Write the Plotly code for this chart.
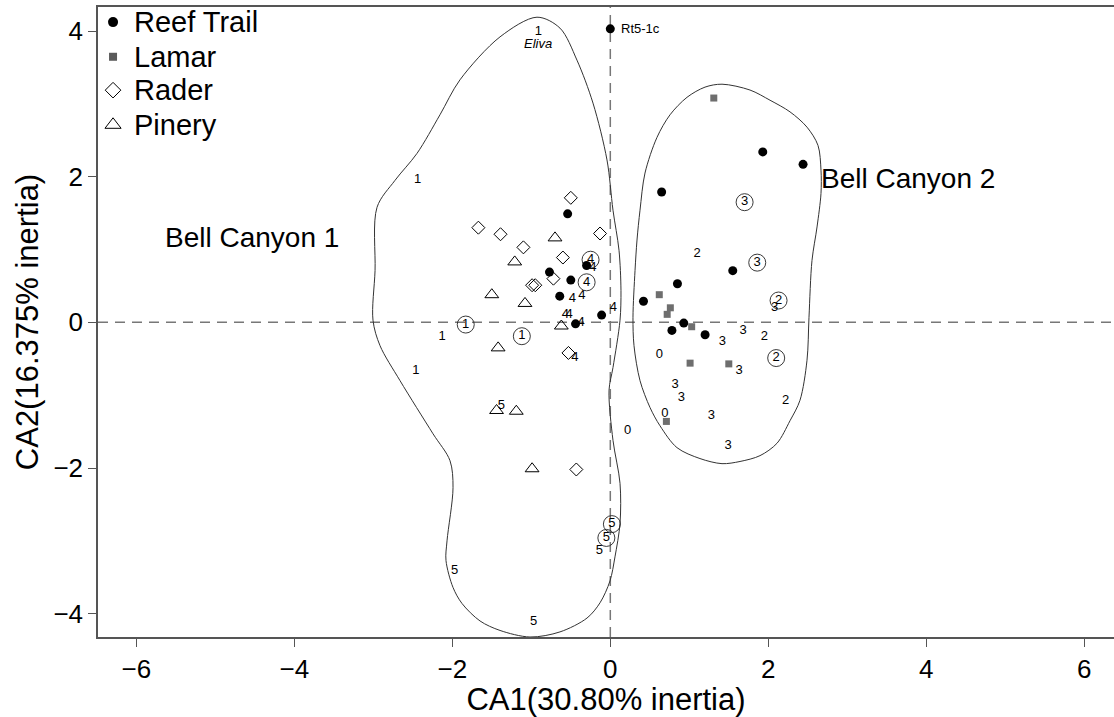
import plotly.graph_objects as go

# --- Sample scores on the first two CA axes ---
reef_x = [-0.54, -0.77, -0.50, -0.30, -0.64, -0.11, -0.44, 0.00, 1.93, 2.44, 0.65, 1.55, 0.85, 0.42, 0.93, 0.78, 1.20]
reef_y = [1.49, 0.69, 0.58, 0.78, 0.36, 0.10, -0.02, 4.03, 2.34, 2.17, 1.79, 0.71, 0.53, 0.29, -0.01, -0.11, -0.17]

lamar_x = [1.31, 0.62, 0.76, 0.72, 1.03, 1.01, 1.50, 0.71]
lamar_y = [3.08, 0.38, 0.20, 0.11, -0.06, -0.56, -0.57, -1.36]

rader_x = [-0.50, -1.67, -1.39, -0.13, -1.10, -0.60, -0.72, -0.99, -0.95, -0.53, -0.43]
rader_y = [1.71, 1.30, 1.21, 1.22, 1.03, 0.89, 0.60, 0.51, 0.51, -0.42, -2.02]

pinery_x = [-0.70, -1.21, -1.50, -1.08, -0.62, -1.42, -1.44, -1.19, -0.99]
pinery_y = [1.16, 0.83, 0.38, 0.26, -0.05, -0.35, -1.21, -1.22, -2.01]

# --- Species-group scores (numbered labels) ---
num_text = ["1", "1", "1", "1", "4", "4", "4", "4", "4", "4", "4", "4", "5", "0", "5", "5", "5",
            "2", "3", "3", "2", "3", "0", "3", "3", "3", "2", "0", "3", "3"]
num_x = [-0.91, -2.44, -2.13, -2.46, -0.22, -0.48, -0.36, 0.04, -0.57, -0.52, -0.37, -0.45, -1.38, 0.22, -0.14, -1.97, -0.97,
         1.10, 2.08, 1.68, 1.95, 1.42, 0.62, 1.63, 0.82, 0.90, 2.22, 0.69, 1.28, 1.49]
num_y = [3.99, 1.96, -0.20, -0.67, 0.75, 0.33, 0.36, 0.20, 0.11, 0.11, -0.01, -0.48, -1.14, -1.49, -3.14, -3.41, -4.11,
         0.94, 0.20, -0.12, -0.20, -0.27, -0.44, -0.66, -0.85, -1.03, -1.08, -1.25, -1.28, -1.70]

circ_text = ["1", "1", "4", "4", "5", "5", "3", "3", "2", "2"]
circ_x = [-1.83, -1.12, -0.25, -0.30, 0.02, -0.05, 1.70, 1.86, 2.13, 2.10]
circ_y = [-0.03, -0.19, 0.86, 0.55, -2.77, -2.96, 1.65, 0.82, 0.30, -0.49]

# --- Group outlines ---
bc1_x = [-0.928, -0.637, -0.422, -0.219, -0.042, 0.034, 0.110, 0.135, 0.123, 0.034, -0.016, 0.034, 0.123, 0.123,
         0.059, -0.004, -0.130, -0.295, -0.637, -1.016, -1.396, -1.649, -1.877, -1.991, -2.080, -2.067, -1.991,
         -2.029, -2.244, -2.662, -2.915, -3.004, -2.978, -2.953, -2.725, -2.447, -2.156, -1.903, -1.396, -0.928]
bc1_y = [4.19, 4.04, 3.60, 3.01, 2.23, 1.54, 0.99, 0.44, 0.03, -0.62, -0.93, -1.62, -2.21, -2.76,
         -3.22, -3.55, -3.85, -4.06, -4.25, -4.32, -4.23, -4.10, -3.86, -3.64, -3.27, -3.00, -2.27,
         -1.90, -1.53, -0.80, -0.32, 0.03, 0.71, 1.58, 1.95, 2.32, 2.85, 3.33, 3.92, 4.19]

bc2_x = [1.414, 1.768, 2.022, 2.275, 2.490, 2.629, 2.667, 2.667, 2.617, 2.553, 2.515, 2.490, 2.401, 2.275, 2.110,
         1.895, 1.642, 1.414, 1.135, 0.844, 0.629, 0.503, 0.376, 0.300, 0.287, 0.313, 0.338, 0.376, 0.439,
         0.591, 0.756, 0.971, 1.199, 1.414]
bc2_y = [3.27, 3.19, 3.05, 2.89, 2.68, 2.43, 2.09, 1.77, 1.31, 0.85, 0.07, -0.52, -1.07, -1.35, -1.66,
         -1.83, -1.91, -1.94, -1.87, -1.72, -1.42, -1.17, -0.80, -0.32, 0.07, 0.71, 1.13, 1.54, 2.05,
         2.54, 2.85, 3.09, 3.23, 3.27]

# --- Legend entries ---
legend_names = ["Reef Trail", "Lamar", "Rader", "Pinery"]

FONT = "Liberation Sans, Arial, Helvetica, sans-serif"

site_styles = [
    dict(symbol="circle", size=9, color="black"),
    dict(symbol="square", size=7, color="#6e6e6e"),
    dict(symbol="diamond-open", size=10, color="black", line=dict(width=1)),
    dict(symbol="triangle-up-open", size=12, color="black", line=dict(width=1)),
]
legend_key_styles = [
    dict(symbol="circle", size=10, color="black"),
    dict(symbol="square", size=8, color="#5a5a5a"),
    dict(symbol="diamond-open", size=12, color="black", line=dict(width=1)),
    dict(symbol="triangle-up-open", size=14, color="black", line=dict(width=1)),
]

fig = go.Figure()

for hx, hy in [(bc1_x, bc1_y), (bc2_x, bc2_y)]:
    fig.add_trace(go.Scatter(x=hx, y=hy, mode="lines", line=dict(color="#333333", width=1, shape="spline", smoothing=0.9),
                             showlegend=False, hoverinfo="skip"))

# plain numbered labels
fig.add_trace(go.Scatter(x=num_x, y=num_y, mode="text", text=num_text, textposition="middle center",
                         textfont=dict(family=FONT, size=13, color="#000000"), showlegend=False))

# circled numbered labels
fig.add_trace(go.Scatter(x=circ_x, y=circ_y, mode="markers+text", text=circ_text, textposition="middle center",
                         textfont=dict(family=FONT, size=13, color="#000000"),
                         marker=dict(symbol="circle-open", size=17, color="#222222", line=dict(width=0.9)),
                         showlegend=False))

for name, sx, sy, st in zip(legend_names, [reef_x, lamar_x, rader_x, pinery_x],
                            [reef_y, lamar_y, rader_y, pinery_y], site_styles):
    fig.add_trace(go.Scatter(x=sx, y=sy, mode="markers", name=name, marker=st, showlegend=False))

# legend block drawn in the top-left corner of the panel (fractional panel coordinates)
key_x = 0.0148
row_y = [0.976, 0.921, 0.868, 0.813]
for name, ky, st in zip(legend_names, row_y, legend_key_styles):
    fig.add_trace(go.Scatter(x=[key_x], y=[ky], mode="markers", marker=st, xaxis="x2", yaxis="y2",
                             showlegend=False, hoverinfo="skip"))
    fig.add_annotation(xref="paper", yref="paper", x=0.0335, y=ky, text=name, showarrow=False,
                       xanchor="left", yanchor="middle", font=dict(family=FONT, size=29, color="black"))

# zero reference lines
fig.add_shape(type="line", xref="paper", yref="y", x0=0, x1=1, y0=0, y1=0,
              line=dict(color="#777777", width=1.5, dash="10px,7px"), layer="below")
fig.add_shape(type="line", xref="x", yref="paper", x0=0, x1=0, y0=0, y1=1,
              line=dict(color="#777777", width=1.5, dash="10px,7px"), layer="below")

# text annotations
fig.add_annotation(x=0.0, y=4.03, text="Rt5-1c", showarrow=False, xanchor="left", xshift=9,
                   font=dict(family=FONT, size=13, color="black"))
fig.add_annotation(x=-0.91, y=3.83, text="<i>Eliva</i>", showarrow=False,
                   font=dict(family=FONT, size=13, color="black"))
fig.add_annotation(x=-4.54, y=1.17, text="Bell Canyon 1", showarrow=False,
                   font=dict(family=FONT, size=28, color="black"))
fig.add_annotation(x=3.77, y=1.98, text="Bell Canyon 2", showarrow=False,
                   font=dict(family=FONT, size=28, color="black"))

axis_common = dict(showgrid=False, zeroline=False, showline=True, linecolor="#555555", linewidth=1.5,
                   ticks="outside", ticklen=8, tickwidth=1, tickcolor="#555555",
                   tickfont=dict(family=FONT, size=26, color="black"))

fig.update_xaxes(range=[-6.485, 6.376], tickvals=[-6, -4, -2, 0, 2, 4, 6], mirror=True,
                 title=dict(text="CA1(30.80% inertia)", font=dict(family=FONT, size=31, color="black"), standoff=2),
                 **axis_common)
fig.update_yaxes(range=[-4.32, 4.33], tickvals=[-4, -2, 0, 2, 4],
                 title=dict(text="CA2(16.375% inertia)", font=dict(family=FONT, size=31, color="black"), standoff=6),
                 **axis_common)

fig.update_layout(
    width=1114, height=717, autosize=False,
    margin=dict(l=98, r=0, t=7, b=80),
    plot_bgcolor="white", paper_bgcolor="white",
    font=dict(family=FONT, color="black"),
    showlegend=False,
    xaxis2=dict(overlaying="x", range=[0, 1], visible=False, fixedrange=True),
    yaxis2=dict(overlaying="y", range=[0, 1], visible=False, fixedrange=True),
)

fig.write_html("out.html")
